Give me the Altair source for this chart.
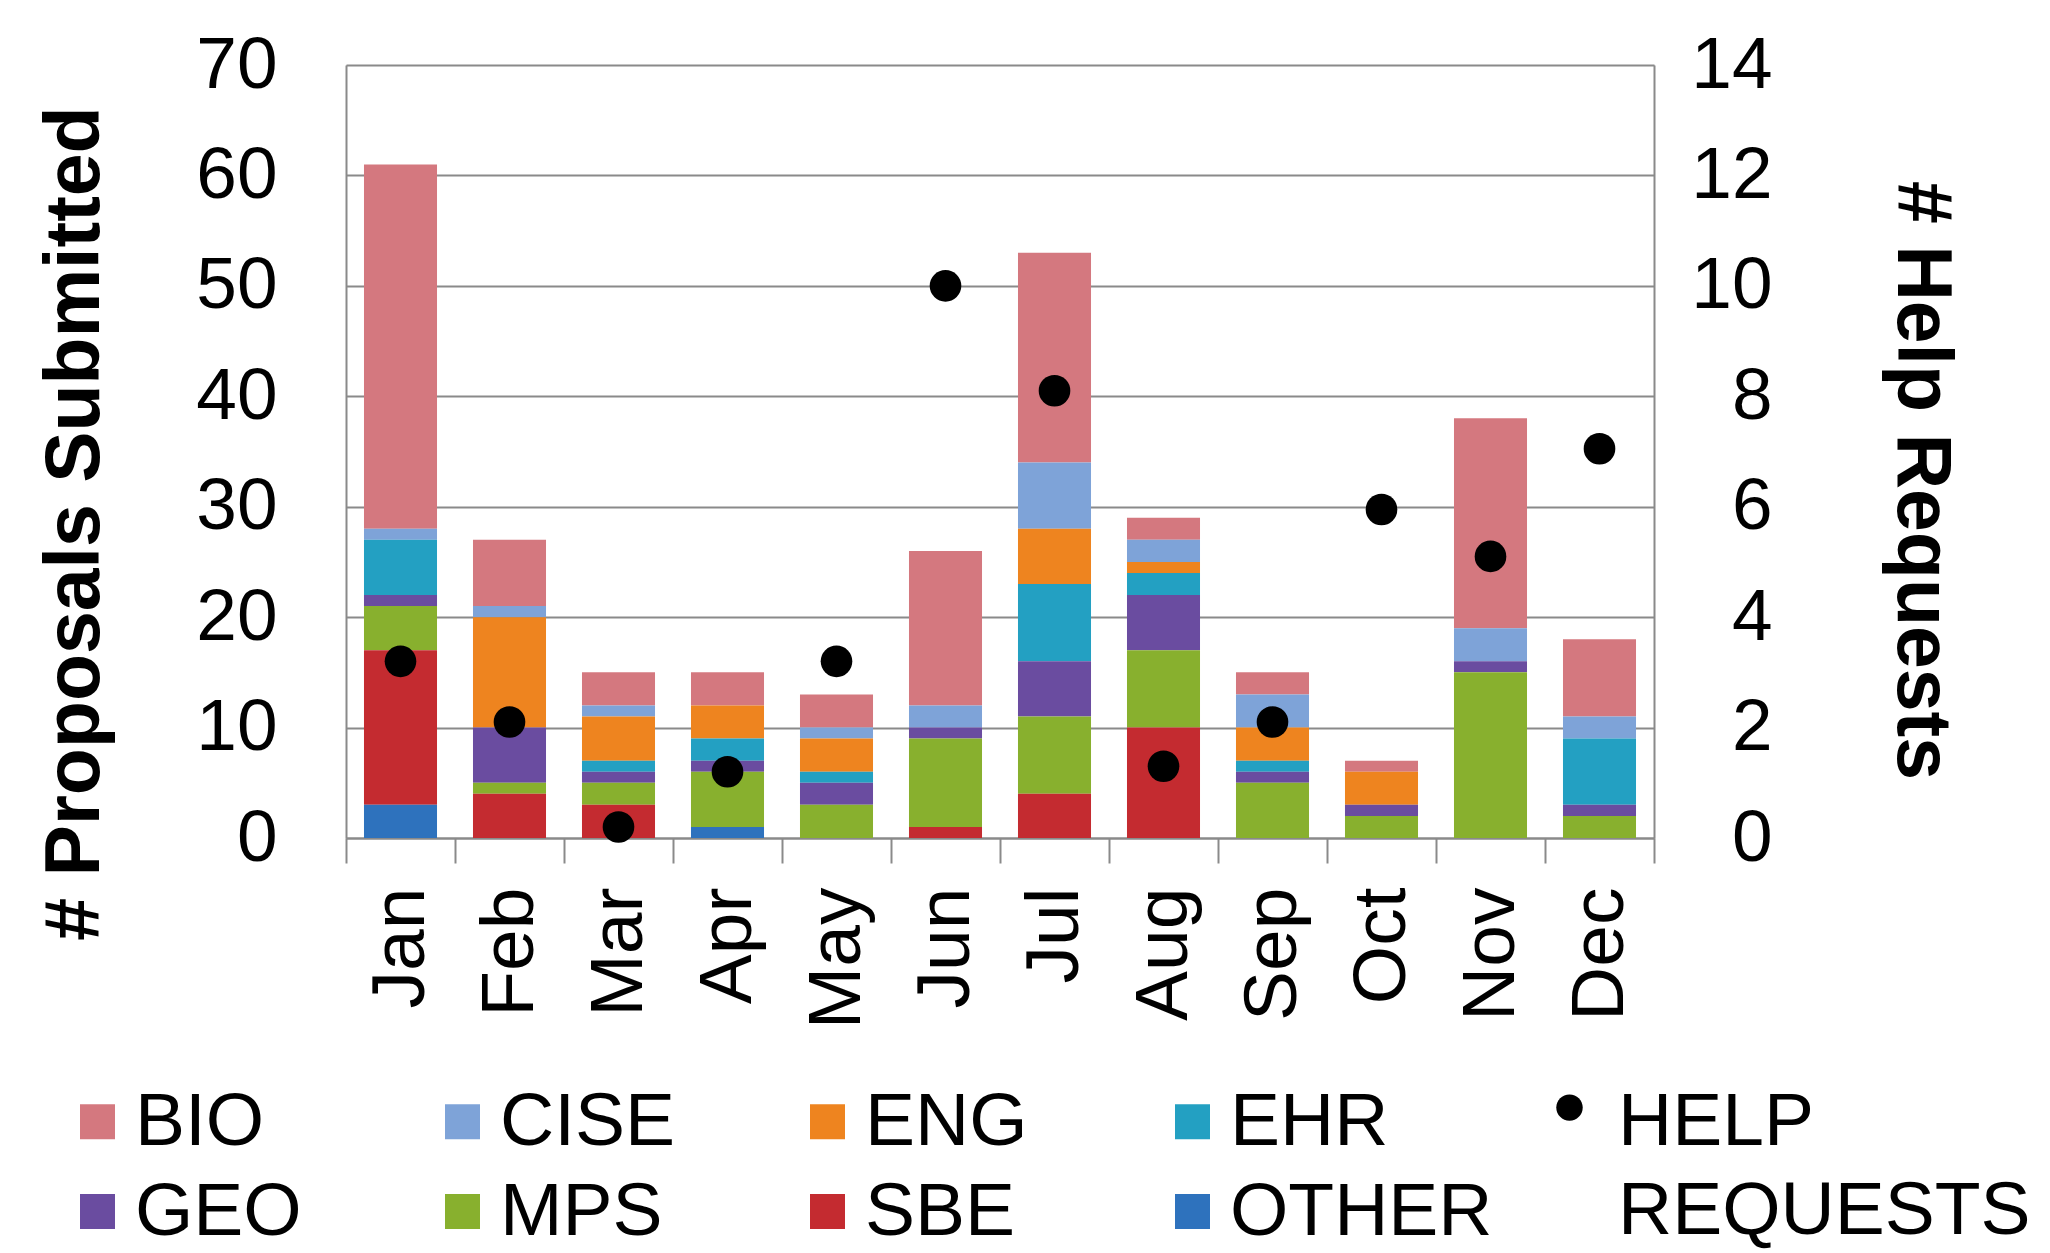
import altair as alt
import pandas as pd

FONT = "Liberation Sans"
GRID = "#8a8a8a"

months = ["Jan", "Feb", "Mar", "Apr", "May", "Jun", "Jul", "Aug", "Sep", "Oct", "Nov", "Dec"]
depts = ["BIO", "CISE", "ENG", "EHR", "GEO", "MPS", "SBE", "OTHER"]
stack_order = ["OTHER", "SBE", "MPS", "GEO", "EHR", "ENG", "CISE", "BIO"]
dept_colors = ["#d4787f", "#7ea3d8", "#ee841f", "#23a0c2", "#6a4ca0", "#88b02e", "#c42b30", "#2e72bd"]

BIO = [33, 6, 3, 3, 3, 14, 19, 2, 2, 1, 19, 7]
CISE = [1, 1, 1, 0, 1, 2, 6, 2, 3, 0, 3, 2]
ENG = [0, 10, 4, 3, 3, 0, 5, 1, 3, 3, 0, 0]
EHR = [5, 0, 1, 2, 1, 0, 7, 2, 1, 0, 0, 6]
GEO = [1, 5, 1, 1, 2, 1, 5, 5, 1, 1, 1, 1]
MPS = [4, 1, 2, 5, 3, 8, 7, 7, 5, 2, 15, 2]
SBE = [14, 4, 3, 0, 0, 1, 4, 10, 0, 0, 0, 0]
OTHER = [3, 0, 0, 1, 0, 0, 0, 0, 0, 0, 0, 0]
help_requests = [3.2, 2.1, 0.2, 1.2, 3.2, 10.0, 8.1, 1.3, 2.1, 5.95, 5.1, 7.05]

series = {"BIO": BIO, "CISE": CISE, "ENG": ENG, "EHR": EHR,
          "GEO": GEO, "MPS": MPS, "SBE": SBE, "OTHER": OTHER}

rows = []
for d, vals in series.items():
    for m, v in zip(months, vals):
        if v > 0:
            rows.append({"month": m, "dept": d, "count": v, "rank": stack_order.index(d)})
df_bars = pd.DataFrame(rows)
df_help = pd.DataFrame({"month": months, "help": help_requests, "series": "HELP REQUESTS"})

# legend dot drawn slightly above the label's centre line
raised_circle = "M-1,-1.05A1,1,0,1,0,1,-1.05A1,1,0,1,0,-1,-1.05Z"

bars = alt.Chart(df_bars).mark_bar(width=alt.RelativeBandSize(0.67)).encode(
    x=alt.X("month:N", sort=months,
            scale=alt.Scale(paddingInner=0, paddingOuter=0),
            axis=alt.Axis(title=None, labelAngle=-90, labelFontSize=75, labelFont=FONT,
                          labelColor="black", tickBand="extent", tickSize=25, tickColor=GRID,
                          tickWidth=2, domainColor=GRID, domainWidth=2, labelPadding=24,
                          grid=False)),
    y=alt.Y("count:Q", stack="zero", scale=alt.Scale(domain=[0, 70], nice=False),
            axis=alt.Axis(values=list(range(0, 71, 10)), title="# Proposals Submitted",
                          titleFont=FONT, titleFontSize=77, titleFontWeight="bold",
                          titleColor="black", titleAngle=-90, titleAlign="center",
                          titleBaseline="middle", titleX=-271, titleY=458,
                          labelFont=FONT, labelFontSize=73, labelColor="black",
                          labelPadding=69, ticks=False, domainColor=GRID, domainWidth=2,
                          grid=True, gridColor=GRID, gridWidth=2)),
    color=alt.Color("dept:N", scale=alt.Scale(domain=depts, range=dept_colors),
                    legend=alt.Legend(orient="none", legendX=-286, legendY=1019,
                                      direction="horizontal", columns=4, title=None,
                                      symbolType="square", symbolSize=1225,
                                      symbolStrokeWidth=0, labelFontSize=75, labelFont=FONT,
                                      labelColor="black", labelOffset=0, labelLimit=500,
                                      columnPadding=27, rowPadding=14, gridAlign="all",
                                      padding=0)),
    order=alt.Order("rank:Q", sort="ascending"),
)

points = alt.Chart(df_help).mark_point(filled=True, size=1000, opacity=1, shape="circle").encode(
    x=alt.X("month:N", sort=months),
    y=alt.Y("help:Q", scale=alt.Scale(domain=[0, 14], nice=False),
            axis=alt.Axis(orient="right", values=list(range(0, 15, 2)), title="# Help Requests",
                          titleFont=FONT, titleFontSize=77, titleFontWeight="bold",
                          titleColor="black", titleAngle=90, titleAlign="center",
                          titleBaseline="middle", titleX=266, titleY=415,
                          labelFont=FONT, labelFontSize=73, labelColor="black",
                          labelAlign="right", labelPadding=118, ticks=False,
                          domainColor=GRID, domainWidth=2, grid=False)),
    fill=alt.Fill("series:N", scale=alt.Scale(domain=["HELP REQUESTS"], range=["black"]),
                  legend=alt.Legend(orient="none", legendX=1186, legendY=1019, title=None,
                                    symbolType=raised_circle, symbolSize=700,
                                    symbolStrokeWidth=0,
                                    labelExpr="['HELP', 'REQUESTS']",
                                    labelFontSize=75, labelFont=FONT, labelColor="black",
                                    labelOffset=11, labelLimit=600, padding=0)),
)

chart = alt.layer(bars, points).resolve_scale(y="independent", x="shared").properties(
    width=1308, height=773,
    autosize=alt.AutoSizeParams(type="none"),
    padding={"left": 338, "top": 57, "right": 380, "bottom": 415},
    background="white",
).configure_view(stroke=None).configure(
    style={"guide-label": {"lineHeight": 89}}
)

chart.save("out.html", embed_options={"renderer": "svg", "actions": False})
